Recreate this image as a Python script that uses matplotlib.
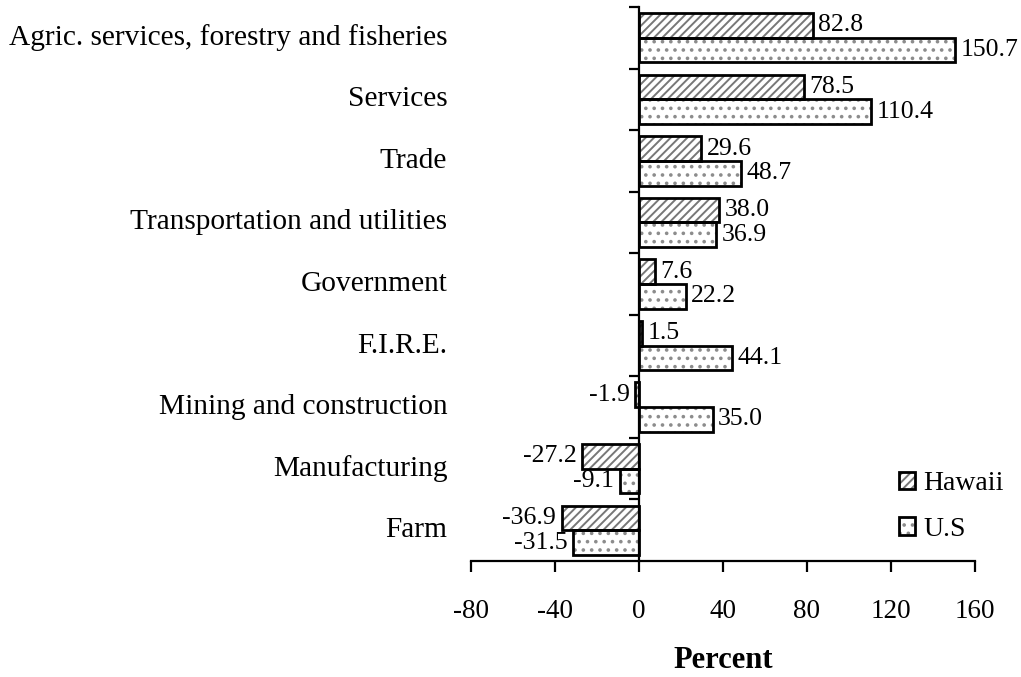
import matplotlib
matplotlib.use("Agg")
import matplotlib.pyplot as plt
from matplotlib.patches import Patch
from matplotlib.legend_handler import HandlerTuple
import numpy as np

categories = ["Farm", "Manufacturing", "Mining and construction", "F.I.R.E.",
              "Government", "Transportation and utilities", "Trade", "Services",
              "Agric. services, forestry and fisheries"]
hawaii = [-36.9, -27.2, -1.9, 1.5, 7.6, 38.0, 29.6, 78.5, 82.8]
us = [-31.5, -9.1, 35.0, 44.1, 22.2, 36.9, 48.7, 110.4, 150.7]
series_names = ["Hawaii", "U.S"]
xticks = [-80, -40, 0, 40, 80, 120, 160]

plt.rcParams['font.family'] = ['Liberation Serif', 'DejaVu Serif']
plt.rcParams['hatch.linewidth'] = 1.4
FS_CAT = 21.2
FS_TICK = 19.5
FS_VAL = 18.5
FS_LEG = 20

fig = plt.figure(figsize=(10.21, 6.77), dpi=100)
ax = fig.add_axes([471/1021, 1-561/677, (975-471)/1021, (561-7)/677])

y = np.arange(len(categories))
h = 0.4
hatch_grey = '#777777'
dot_grey = '#8c8c8c'

# hatch layers
ax.barh(y + h/2, hawaii, height=h, color='white', edgecolor=hatch_grey,
        hatch='////', linewidth=0, zorder=2)
ax.barh(y - h/2, us, height=h, color='white', edgecolor=dot_grey,
        hatch='..', linewidth=0, zorder=2)
# outline layers
c1 = ax.barh(y + h/2, hawaii, height=h, fill=False, edgecolor='black',
             linewidth=2, zorder=3)
c2 = ax.barh(y - h/2, us, height=h, fill=False, edgecolor='black',
             linewidth=2, zorder=3)

ax.bar_label(c1, labels=[f"{v:.1f}" for v in hawaii], padding=4, fontsize=FS_VAL)
ax.bar_label(c2, labels=[f"{v:.1f}" for v in us], padding=4, fontsize=FS_VAL)

ax.set_xlim(-80, 160)
ax.set_ylim(-0.5, len(categories) - 0.5)
ax.set_xticks(xticks)
ax.set_xticklabels([str(t) for t in xticks], fontsize=FS_TICK)
ax.set_yticks(np.arange(len(categories)) + 0.5)
ax.set_yticklabels([])

for s in ['top', 'right']:
    ax.spines[s].set_visible(False)
ax.spines['left'].set_position(('data', 0))
ax.spines['left'].set_linewidth(1.6)
ax.spines['bottom'].set_linewidth(1.6)
ax.spines['left'].set_zorder(4)
ax.tick_params(axis='x', direction='out', length=8, width=1.6, pad=19)
ax.tick_params(axis='y', direction='out', length=7, width=1.6)

for i, c in enumerate(categories):
    ax.text(-0.047, i, c, transform=ax.get_yaxis_transform(), ha='right',
            va='center', fontsize=FS_CAT)

fig.text((471+975)/2/1021, 1-660/677, "Percent", ha='center', va='center',
         fontsize=22, fontweight='bold')

hh = (Patch(facecolor='white', edgecolor=hatch_grey, hatch='////', linewidth=0),
      Patch(fill=False, edgecolor='black', linewidth=2))
hu = (Patch(facecolor='white', edgecolor=dot_grey, hatch='..', linewidth=0),
      Patch(fill=False, edgecolor='black', linewidth=2))
ax.legend([hh, hu], series_names, handler_map={tuple: HandlerTuple(ndivide=1, pad=0)},
          loc='upper left', bbox_to_anchor=(899/1021, 1-471/677),
          bbox_transform=fig.transFigure, frameon=False, fontsize=FS_LEG,
          handlelength=0.58, handleheight=0.58, handletextpad=0.3,
          labelspacing=0.75, borderpad=0, borderaxespad=0)

fig.savefig("out.png", dpi=100)
